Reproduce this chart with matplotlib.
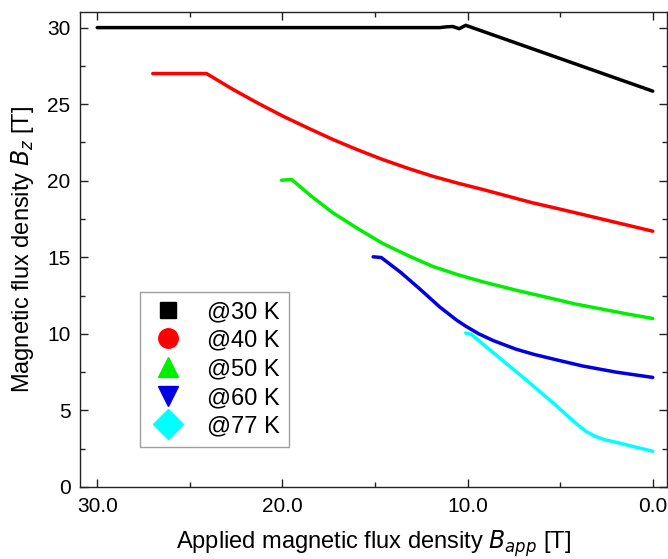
import matplotlib.pyplot as plt
from matplotlib.lines import Line2D
from matplotlib.ticker import MultipleLocator

plt.rcParams['font.family'] = ['Liberation Sans', 'DejaVu Sans']

# data
labels = ['@30 K', '@40 K', '@50 K', '@60 K', '@77 K']
colors = ['black', '#ff0000', '#00ee00', '#0000e0', '#00ffff']
markers = ['s', 'o', '^', 'v', 'D']

x30 = [30.0, 11.5, 11.15, 10.8, 10.45, 10.1, 0.0]
y30 = [30.0, 30.0, 30.05, 30.07, 29.93, 30.15, 25.85]

x40 = [27.0, 24.1, 22.65, 21.3, 19.96, 18.6, 17.27, 15.9, 14.58, 13.2, 11.88,
       10.5, 9.19, 7.8, 6.5, 5.1, 3.81, 1.9, 0.0]
y40 = [27.0, 27.0, 25.95, 25.05, 24.21, 23.43, 22.69, 22.0, 21.38, 20.8, 20.29,
       19.83, 19.43, 18.98, 18.56, 18.17, 17.8, 17.25, 16.7]

x50 = [20.05, 19.5, 18.4, 17.27, 15.9, 14.58, 13.2, 11.88, 10.5, 9.19, 7.39,
       5.6, 4.2, 2.9, 1.4, 0.0]
y50 = [20.03, 20.08, 18.95, 17.9, 16.85, 15.9, 15.1, 14.4, 13.85, 13.4, 12.85,
       12.35, 11.95, 11.65, 11.3, 11.0]

x60 = [15.1, 14.66, 13.6, 12.6, 11.5, 10.6, 10.1, 9.4, 8.6, 7.4, 6.4, 5.2,
       3.8, 2.0, 0.0]
y60 = [15.03, 14.98, 14.0, 12.95, 11.75, 10.9, 10.5, 10.0, 9.55, 9.0, 8.65, 8.3,
       7.9, 7.5, 7.15]

x77 = [10.1, 9.8, 8.3, 6.85, 5.3, 4.2, 3.6, 3.1, 2.6, 2.0, 1.0, 0.0]
y77 = [10.05, 9.96, 8.45, 7.0, 5.4, 4.2, 3.62, 3.3, 3.08, 2.92, 2.62, 2.33]

series = [(x30, y30), (x40, y40), (x50, y50), (x60, y60), (x77, y77)]

fig = plt.figure(figsize=(6.68, 5.59), dpi=100)
ax = fig.add_axes([0.12, 0.129, 0.878, 0.849])

for (xs, ys), c in zip(series, colors):
    ax.plot(xs, ys, color=c, lw=2.5, solid_capstyle='round', solid_joinstyle='round')

ax.set_xlim(30.92, -0.75)
ax.set_ylim(0, 31)
ax.xaxis.set_major_locator(MultipleLocator(10))
ax.xaxis.set_minor_locator(MultipleLocator(5))
ax.yaxis.set_major_locator(MultipleLocator(5))
ax.yaxis.set_minor_locator(MultipleLocator(2.5))
ax.xaxis.set_major_formatter(plt.FormatStrFormatter('%.1f'))
ax.tick_params(which='both', direction='in', top=True, right=True,
               labelsize=15, width=1.0, color='#222222')
ax.tick_params(which='major', length=6, pad=7)
ax.tick_params(which='minor', length=3.5)
for s in ax.spines.values():
    s.set_linewidth(1.0)
    s.set_color('#222222')

ax.set_xlabel('Applied magnetic flux density $B_{app}$ [T]', fontsize=17, labelpad=9)
ax.set_ylabel('Magnetic flux density $B_z$ [T]', fontsize=17, labelpad=8)

handles = [Line2D([], [], ls='none', marker=m, color=c, markersize=ms)
           for m, c, ms in zip(markers, colors, [12, 14, 15, 15, 15])]
leg = ax.legend(handles, labels, loc='lower left', bbox_to_anchor=(0.102, 0.085),
                borderaxespad=0, fontsize=17, frameon=True, fancybox=False,
                edgecolor='#888888', labelspacing=0.28, handletextpad=0.8,
                handlelength=1.65, borderpad=0.38)
leg.get_frame().set_linewidth(1.0)

fig.savefig('out.png', dpi=100)
